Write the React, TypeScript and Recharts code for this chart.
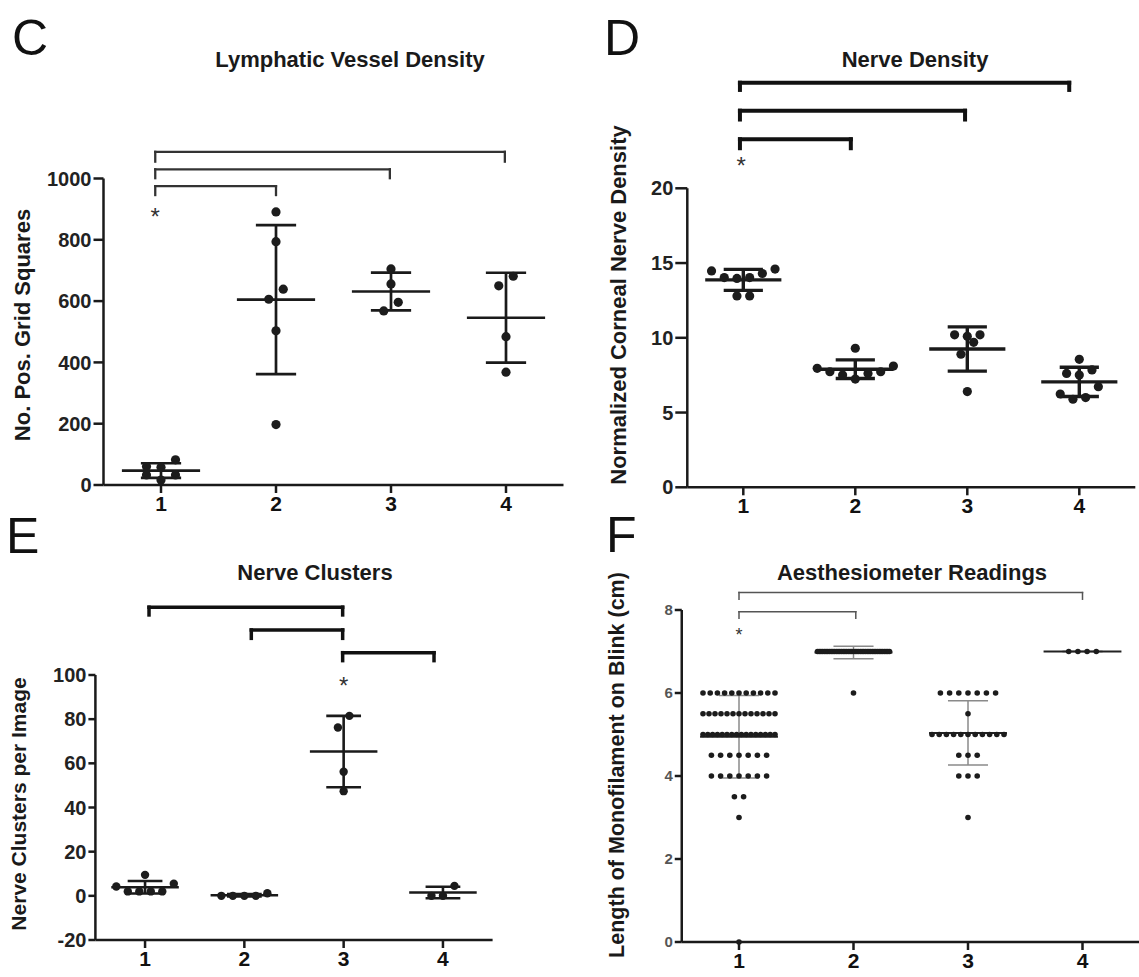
// App.tsx — four dot-plot panels (C–F): individual points, mean ± SD, comparison brackets
import React from 'react';
import { ScatterChart, Scatter, XAxis, YAxis, ReferenceLine, ReferenceDot } from 'recharts';

const FONT = '"Liberation Sans", Arial, Helvetica, sans-serif';
const groupTicks = [1, 2, 3, 4];

// C: Lymphatic Vessel Density (no. positive grid squares)
const lymphTicks = [0, 200, 400, 600, 800, 1000];
const lymphG1 = [82, 60, 58, 33, 33, 16];
const lymphG2 = [891, 794, 639, 606, 503, 197];
const lymphG3 = [705, 656, 596, 568];
const lymphG4 = [681, 650, 484, 368];

// D: Nerve Density (normalized corneal nerve density)
const nerveTicks = [0, 5, 10, 15, 20];
const nerveG1 = [14.6, 14.47, 14.3, 14.03, 13.97, 14.03, 12.8, 12.8];
const nerveG2 = [9.3, 8.11, 7.73, 7.62, 7.24, 7.51, 7.73, 7.96];
const nerveG3 = [10.2, 10.1, 10.2, 9.7, 8.9, 6.4];
const nerveG4 = [8.56, 7.62, 7.51, 7.85, 6.73, 6.24, 5.89, 6.0];

// E: Nerve Clusters per image
const clusterTicks = [-20, 0, 20, 40, 60, 80, 100];
const clusterG1 = [9.5, 5.5, 4.2, 2, 2, 2, 2];
const clusterG2 = [1.2, 0, 0, 0, 0];
const clusterG3 = [81.5, 76.2, 56.2, 47.4];
const clusterG4 = [4.5, 0, 0];

// F: Aesthesiometer readings (cm) — how many eyes blinked at each length
const blinkTicks = [0, 2, 4, 6, 8];
const blinkLevels = [7, 6, 5.5, 5, 4.5, 4, 3.5, 3, 0];
const blinkCountsG1 = [0, 11, 13, 16, 7, 7, 2, 1, 1];
const blinkCountsG2 = [43, 1, 0, 0, 0, 0, 0, 0, 0];
const blinkCountsG3 = [0, 7, 1, 11, 3, 3, 0, 1, 0];
const blinkCountsG4 = [4, 0, 0, 0, 0, 0, 0, 0, 0];

const expand = (counts: number[]) => blinkLevels.flatMap((v, i) => Array(counts[i]).fill(v) as number[]);

type Bracket = { x1: number; x2: number; bar: number; leg: number };

// comparison brackets (group positions, bar height, leg end in axis units)
const lymphBrackets: Bracket[] = [
  { x1: 0.95, x2: 3.99, bar: 1087, leg: 1055 },
  { x1: 0.95, x2: 2.99, bar: 1030, leg: 1001 },
  { x1: 0.95, x2: 2.0, bar: 975, leg: 946 },
];
const nerveBrackets: Bracket[] = [
  { x1: 0.97, x2: 3.91, bar: 27.06, leg: 26.58 },
  { x1: 0.97, x2: 2.98, bar: 25.19, leg: 24.6 },
  { x1: 0.97, x2: 1.96, bar: 23.28, leg: 22.68 },
];
const clusterBrackets: Bracket[] = [
  { x1: 1.04, x2: 2.99, bar: 130.7, leg: 127.2 },
  { x1: 2.07, x2: 2.99, bar: 120.4, leg: 116.6 },
  { x1: 2.99, x2: 3.91, bar: 110.1, leg: 106.5 },
];
const blinkBrackets: Bracket[] = [
  { x1: 1, x2: 4, bar: 8.42, leg: 8.26 },
  { x1: 1, x2: 2.02, bar: 7.96, leg: 7.8 },
];

function meanSd(values: number[]) {
  const n = values.length;
  const mean = values.reduce((a, b) => a + b, 0) / n;
  const sd = n > 1 ? Math.sqrt(values.reduce((a, v) => a + (v - mean) ** 2, 0) / (n - 1)) : 0;
  return { mean, sd };
}

// GraphPad-like scatter: bin close values into rows, spread each row centre-out
function swarm(values: number[], group: number, pxPerUnit: number, pxPerCat: number, binPx: number, gapPx: number, maxPx: number) {
  const sorted = [...values].sort((a, b) => a - b);
  const rows: number[][] = [];
  for (const v of sorted) {
    const row = rows[rows.length - 1];
    if (row && (v - row[0]) * pxPerUnit <= binPx) row.push(v);
    else rows.push([v]);
  }
  return rows.flatMap((row) => {
    const n = row.length;
    const step = n > 1 ? Math.min(gapPx, maxPx / (n - 1)) : 0;
    const slots = row
      .map((_, i) => (i - (n - 1) / 2) * step)
      .sort((a, b) => Math.abs(a) - Math.abs(b) || a - b);
    return row.map((v, i) => ({ x: group + slots[i] / pxPerCat, y: v }));
  });
}

type Look = {
  r: number;
  binPx: number;
  gapPx: number;
  maxPx: number;
  meanStroke: string;
  meanWidth: number;
  sdStroke: string;
  sdWidth: number;
  bracketStroke: string;
  bracketWidth: number;
  yTickFont: number;
  yTickWeight: number;
  yTickFill: string;
  yTickSize: number;
  starSize: number;
};

type PanelProps = {
  box: { left: number; top: number; width: number; height: number };
  plot: { left: number; right: number; top: number; bottom: number };
  yDomain: [number, number];
  yTicks: number[];
  groups: number[][];
  brackets: Bracket[];
  star: { x: number; y: number };
  look: Look;
};

function Panel({ box, plot, yDomain, yTicks, groups, brackets, star, look }: PanelProps) {
  const pxPerUnit = (plot.bottom - plot.top) / (yDomain[1] - yDomain[0]);
  const pxPerCat = (plot.right - plot.left) / 4;
  const series = groups.map((vals, i) =>
    swarm(vals, i + 1, pxPerUnit, pxPerCat, look.binPx, look.gapPx, look.maxPx)
  );
  const summaries = groups.map((vals, i) => ({ g: i + 1, ...meanSd(vals) }));
  const axisStyle = { stroke: '#1a1a1a', strokeWidth: 2.5 };

  return (
    <div style={{ position: 'absolute', left: box.left, top: box.top }}>
      <ScatterChart
        width={box.width}
        height={box.height}
        margin={{ top: plot.top - box.top, right: box.left + box.width - plot.right, bottom: 0, left: 0 }}
      >
        <XAxis
          type="number"
          dataKey="x"
          domain={[0.5, 4.5]}
          ticks={groupTicks}
          interval={0}
          height={box.top + box.height - plot.bottom}
          axisLine={axisStyle}
          tickLine={axisStyle}
          tickSize={8}
          tickMargin={3}
          tick={{ fontSize: 21, fontWeight: 700, fill: '#111', fontFamily: FONT }}
        />
        <YAxis
          type="number"
          dataKey="y"
          domain={yDomain}
          ticks={yTicks}
          interval={0}
          width={plot.left - box.left}
          axisLine={axisStyle}
          tickLine={axisStyle}
          tickSize={look.yTickSize}
          tickMargin={2}
          tick={{ fontSize: look.yTickFont, fontWeight: look.yTickWeight, fill: look.yTickFill, fontFamily: FONT }}
        />
        {summaries.map((s) => (
          <React.Fragment key={`sum-${s.g}`}>
            <ReferenceLine
              segment={[{ x: s.g, y: s.mean - s.sd }, { x: s.g, y: s.mean + s.sd }]}
              stroke={look.sdStroke}
              strokeWidth={look.sdWidth}
              ifOverflow="visible"
            />
            <ReferenceLine
              segment={[{ x: s.g - 0.175, y: s.mean + s.sd }, { x: s.g + 0.175, y: s.mean + s.sd }]}
              stroke={look.sdStroke}
              strokeWidth={look.sdWidth}
              ifOverflow="visible"
            />
            <ReferenceLine
              segment={[{ x: s.g - 0.175, y: s.mean - s.sd }, { x: s.g + 0.175, y: s.mean - s.sd }]}
              stroke={look.sdStroke}
              strokeWidth={look.sdWidth}
              ifOverflow="visible"
            />
            <ReferenceLine
              segment={[{ x: s.g - 0.34, y: s.mean }, { x: s.g + 0.34, y: s.mean }]}
              stroke={look.meanStroke}
              strokeWidth={look.meanWidth}
              ifOverflow="visible"
            />
          </React.Fragment>
        ))}
        {series.map((pts, i) => (
          <Scatter
            key={`grp-${i}`}
            data={pts}
            isAnimationActive={false}
            shape={(p: any) => <circle cx={p.cx} cy={p.cy} r={look.r} fill="#1c1c1c" />}
          />
        ))}
        {brackets.map((b, i) => (
          <React.Fragment key={`br-${i}`}>
            <ReferenceLine
              segment={[{ x: b.x1, y: b.bar }, { x: b.x2, y: b.bar }]}
              stroke={look.bracketStroke}
              strokeWidth={look.bracketWidth}
              strokeLinecap="square"
              ifOverflow="visible"
            />
            <ReferenceLine
              segment={[{ x: b.x1, y: b.bar }, { x: b.x1, y: b.leg }]}
              stroke={look.bracketStroke}
              strokeWidth={look.bracketWidth}
              strokeLinecap="square"
              ifOverflow="visible"
            />
            <ReferenceLine
              segment={[{ x: b.x2, y: b.bar }, { x: b.x2, y: b.leg }]}
              stroke={look.bracketStroke}
              strokeWidth={look.bracketWidth}
              strokeLinecap="square"
              ifOverflow="visible"
            />
          </React.Fragment>
        ))}
        <ReferenceDot
          x={star.x}
          y={star.y}
          r={0}
          ifOverflow="visible"
          shape={(p: any) => (
            <text
              x={p.cx}
              y={p.cy + 0.57 * look.starSize}
              textAnchor="middle"
              fontSize={look.starSize}
              fontFamily={FONT}
              fill="#333"
            >
              *
            </text>
          )}
        />
      </ScatterChart>
    </div>
  );
}

const boldLook: Look = {
  r: 4.6,
  binPx: 10.5,
  gapPx: 14.5,
  maxPx: 80,
  meanStroke: '#1a1a1a',
  meanWidth: 2.7,
  sdStroke: '#1a1a1a',
  sdWidth: 2.7,
  bracketStroke: '#333',
  bracketWidth: 2.3,
  yTickFont: 20,
  yTickWeight: 700,
  yTickFill: '#222',
  yTickSize: 10,
  starSize: 24,
};

export default function App() {
  const labelStyle = { fontFamily: FONT, fontWeight: 700, fill: '#1a1a1a' } as const;
  const letterStyle = { fontFamily: FONT, fontWeight: 400, fill: '#111', fontSize: 50 } as const;

  return (
    <div
      style={{
        position: 'absolute',
        left: 0,
        top: 0,
        width: 1139,
        height: 977,
        overflow: 'hidden',
        background: '#fff',
      }}
    >
      <Panel
        box={{ left: 0, top: 0, width: 580, height: 530 }}
        plot={{ left: 103.5, right: 563.5, top: 178.5, bottom: 485 }}
        yDomain={[0, 1000]}
        yTicks={lymphTicks}
        groups={[lymphG1, lymphG2, lymphG3, lymphG4]}
        brackets={lymphBrackets}
        star={{ x: 0.95, y: 894 }}
        look={boldLook}
      />
      <Panel
        box={{ left: 560, top: 0, width: 579, height: 530 }}
        plot={{ left: 687.3, right: 1135.3, top: 188.3, bottom: 487.3 }}
        yDomain={[0, 20]}
        yTicks={nerveTicks}
        groups={[nerveG1, nerveG2, nerveG3, nerveG4]}
        brackets={nerveBrackets}
        star={{ x: 0.98, y: 21.9 }}
        look={{ ...boldLook, binPx: 14, gapPx: 12.7, meanWidth: 3.4, sdWidth: 3.4, bracketStroke: '#111', bracketWidth: 4, yTickSize: 12 }}
      />
      <Panel
        box={{ left: 0, top: 490, width: 560, height: 487 }}
        plot={{ left: 95.4, right: 492.6, top: 675, bottom: 940 }}
        yDomain={[-20, 100]}
        yTicks={clusterTicks}
        groups={[clusterG1, clusterG2, clusterG3, clusterG4]}
        brackets={clusterBrackets}
        star={{ x: 3.0, y: 97.7 }}
        look={{ ...boldLook, r: 4.2, binPx: 12, gapPx: 11.5, meanWidth: 2.6, sdWidth: 2.6, bracketStroke: '#111', bracketWidth: 3.5, yTickSize: 7 }}
      />
      <Panel
        box={{ left: 560, top: 490, width: 580, height: 487 }}
        plot={{ left: 681.75, right: 1139.75, top: 610, bottom: 942 }}
        yDomain={[0, 8]}
        yTicks={blinkTicks}
        groups={[expand(blinkCountsG1), expand(blinkCountsG2), expand(blinkCountsG3), expand(blinkCountsG4)]}
        brackets={blinkBrackets}
        star={{ x: 1, y: 7.5 }}
        look={{
          ...boldLook,
          r: 2.8,
          binPx: 1,
          gapPx: 9.2,
          maxPx: 72,
          meanStroke: '#222',
          meanWidth: 2,
          sdStroke: '#8a8a8a',
          sdWidth: 1.5,
          bracketStroke: '#555',
          bracketWidth: 1.5,
          yTickFont: 15,
          yTickWeight: 700,
          yTickFill: '#555',
          yTickSize: 7,
          starSize: 18,
        }}
      />

      <svg
        width={1139}
        height={977}
        style={{ position: 'absolute', left: 0, top: 0, pointerEvents: 'none' }}
      >
        <text x={12} y={55} {...letterStyle}>C</text>
        <text x={604} y={55} {...letterStyle}>D</text>
        <text x={6} y={553} {...letterStyle}>E</text>
        <text x={606} y={552} {...letterStyle}>F</text>

        <text x={350} y={67} textAnchor="middle" fontSize={22} {...labelStyle}>Lymphatic Vessel Density</text>
        <text x={915} y={67} textAnchor="middle" fontSize={22} {...labelStyle}>Nerve Density</text>
        <text x={315} y={580} textAnchor="middle" fontSize={22} {...labelStyle}>Nerve Clusters</text>
        <text x={912} y={580} textAnchor="middle" fontSize={22} {...labelStyle}>Aesthesiometer Readings</text>

        <text transform="translate(22,325) rotate(-90)" textAnchor="middle" dominantBaseline="central" fontSize={22} {...labelStyle}>
          No. Pos. Grid Squares
        </text>
        <text transform="translate(618,305) rotate(-90)" textAnchor="middle" dominantBaseline="central" fontSize={22} {...labelStyle}>
          Normalized Corneal Nerve Density
        </text>
        <text transform="translate(18,804) rotate(-90)" textAnchor="middle" dominantBaseline="central" fontSize={21} {...labelStyle}>
          Nerve Clusters per Image
        </text>
        <text transform="translate(617,765) rotate(-90)" textAnchor="middle" dominantBaseline="central" fontSize={21.5} {...labelStyle}>
          Length of Monofilament on Blink (cm)
        </text>
      </svg>
    </div>
  );
}
